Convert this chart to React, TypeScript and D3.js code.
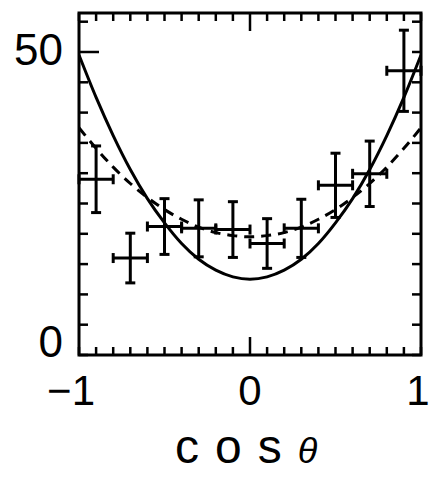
import React from "react";
import * as d3 from "d3";

const pointX = [-0.9, -0.7, -0.5, -0.3, -0.1, 0.1, 0.3, 0.5, 0.7, 0.9];
const pointY = [29.0, 16.0, 21.2, 20.9, 20.7, 18.4, 20.9, 28.0, 29.9, 46.9];
const pointErrY = [5.5, 4.1, 4.6, 4.7, 4.6, 4.1, 4.8, 5.3, 5.4, 6.7];
const pointErrX = [0.1, 0.1, 0.1, 0.1, 0.1, 0.1, 0.1, 0.1, 0.1, 0.1];

const curveX = [-1, -0.9, -0.8, -0.7, -0.6, -0.5, -0.4, -0.3, -0.2, -0.1, 0, 0.1, 0.2, 0.3, 0.4, 0.5, 0.6, 0.7, 0.8, 0.9, 1];
const solidY = [49.5, 42.5, 36.2, 30.6, 25.8, 21.8, 18.4, 15.8, 14.0, 12.9, 12.5, 12.9, 14.0, 15.8, 18.4, 21.8, 25.8, 30.6, 36.2, 42.5, 49.5];
const dashedY = [37.5, 34.1, 31.0, 28.3, 26.0, 24.0, 22.4, 21.1, 20.2, 19.7, 19.5, 19.7, 20.2, 21.1, 22.4, 24.0, 26.0, 28.3, 31.0, 34.1, 37.5];

const xTickLabels = [-1, 0, 1];
const yTickLabels = [0, 50];
const xMinorTicks = d3.range(-10, 11).map((i) => i / 10);
const yMinorTicks = d3.range(0, 12).map((i) => i * 5);

export default function App() {
  const W = 441, H = 487;
  const left = 79, right = 421, top = 13, bottom = 355;
  const x = d3.scaleLinear().domain([-1, 1]).range([left, right]);
  const y = d3.scaleLinear().domain([0, 50]).range([bottom, 52]);

  const line = d3
    .line<number>()
    .x((_, i) => x(curveX[i]))
    .y((d) => y(d))
    .curve(d3.curveMonotoneX);

  const sw = 3;
  const cap = 5;
  const font = "'Liberation Sans', Arial, Helvetica, sans-serif";

  return (
    <svg width={W} height={H} style={{ position: "absolute", left: 0, top: 0, background: "#fff" }}>
      <defs>
        <clipPath id="plot">
          <rect x={left} y={top} width={right - left} height={bottom - top} />
        </clipPath>
      </defs>
      <rect x={0} y={0} width={W} height={H} fill="#fff" />
      {/* frame */}
      <rect x={left} y={top} width={right - left} height={bottom - top} fill="none" stroke="#000" strokeWidth={3} />
      {/* x ticks */}
      {xMinorTicks.map((t, i) => {
        const major = Math.abs(t) < 1e-9;
        const len = major ? 18 : 8;
        return (
          <g key={"xt" + i}>
            <line x1={x(t)} x2={x(t)} y1={bottom} y2={bottom - len} stroke="#000" strokeWidth={2.5} />
            <line x1={x(t)} x2={x(t)} y1={top} y2={top + len} stroke="#000" strokeWidth={2.5} />
          </g>
        );
      })}
      {/* y ticks */}
      {yMinorTicks.map((t, i) => {
        if (y(t) < top) return null;
        const major = t === 50;
        return (
          <g key={"yt" + i}>
            <line x1={left} x2={left + (major ? 20 : 9)} y1={y(t)} y2={y(t)} stroke="#000" strokeWidth={2.5} />
            <line x1={right} x2={right - 9} y1={y(t)} y2={y(t)} stroke="#000" strokeWidth={2.5} />
          </g>
        );
      })}
      {/* y labels */}
      {yTickLabels.map((t) => (
        <text key={"yl" + t} x={63} y={Math.min(y(t) + 13, bottom + 2)} textAnchor="end" fontFamily={font} fontSize={44}>
          {t}
        </text>
      ))}
      {/* x labels */}
      {xTickLabels.map((t) => {
        const label = t < 0 ? "\u2212" + Math.abs(t) : String(t);
        const anchor = t < 0 ? "end" : "middle";
        const px = t < 0 ? x(t) + 16 : t > 0 ? x(t) - 3 : x(t);
        return (
          <text key={"xl" + t} x={px} y={405} textAnchor={anchor} fontFamily={font} fontSize={42}>
            {label}
          </text>
        );
      })}
      {/* title */}
      <text x={175} y={463} fontFamily={font} fontSize={48} letterSpacing={16}>
        cos
        <tspan fontStyle="italic" fontSize={36} dx={0}>θ</tspan>
      </text>
      <g clipPath="url(#plot)">
        <path d={line(solidY) || ""} fill="none" stroke="#000" strokeWidth={3} />
        <path d={line(dashedY) || ""} fill="none" stroke="#000" strokeWidth={3} strokeDasharray="10 7" />
      </g>
      {/* error bars */}
      {pointX.map((px, i) => {
        const cx = x(px), cy = y(pointY[i]);
        const y1 = y(pointY[i] + pointErrY[i]), y2 = y(pointY[i] - pointErrY[i]);
        const x1 = Math.max(x(px - pointErrX[i]), left), x2 = Math.min(x(px + pointErrX[i]), right);
        return (
          <g key={"p" + i} stroke="#000" strokeWidth={sw}>
            <line x1={cx} x2={cx} y1={y1} y2={y2} />
            <line x1={x1} x2={x2} y1={cy} y2={cy} />
            <line x1={cx - cap} x2={cx + cap} y1={y1} y2={y1} />
            <line x1={cx - cap} x2={cx + cap} y1={y2} y2={y2} />
            <line x1={x1} x2={x1} y1={cy - cap} y2={cy + cap} />
            <line x1={x2} x2={x2} y1={cy - cap} y2={cy + cap} />
          </g>
        );
      })}
    </svg>
  );
}
